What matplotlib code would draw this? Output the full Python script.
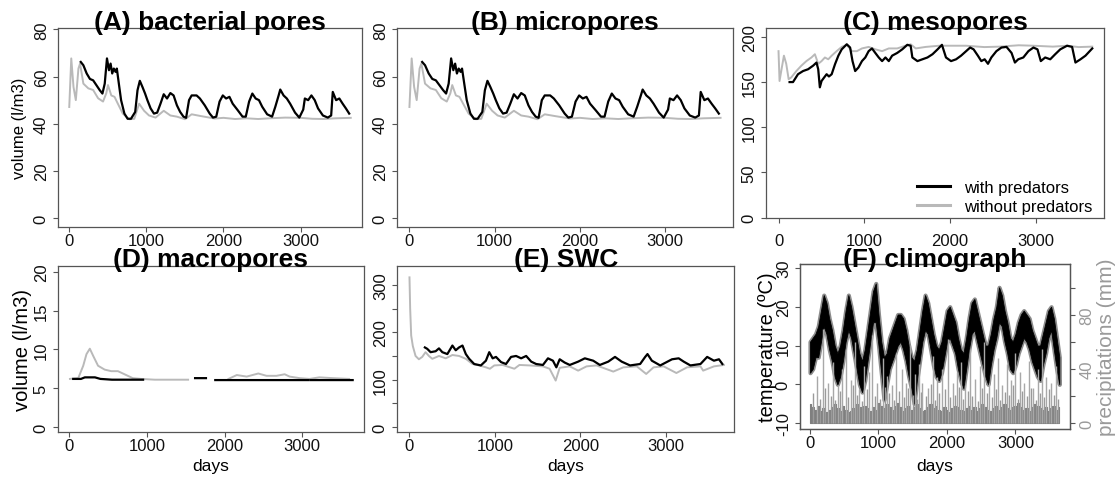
import matplotlib
matplotlib.use("Agg")
import matplotlib.pyplot as plt
from matplotlib.lines import Line2D

nan = float("nan")

plt.rcParams['font.family'] = ['Liberation Sans', 'DejaVu Sans']
plt.rcParams['axes.unicode_minus'] = False

# ---- (A) bacterial pores, (B) micropores : volume (l/m3) ----
ab_days_with = [149, 183, 226, 268, 310, 353, 396, 430, 460, 489,
                515, 536, 557, 578, 600, 617, 643, 672, 715, 757,
                800, 855, 885, 915, 949, 983, 1013, 1055, 1098, 1140,
                1183, 1225, 1268, 1311, 1353, 1396, 1438, 1481, 1515, 1553,
                1587, 1651, 1694, 1757, 1821, 1864, 1906, 1949, 1991, 2034,
                2077, 2119, 2183, 2247, 2289, 2332, 2374, 2417, 2460, 2502,
                2566, 2630, 2672, 2715, 2736, 2779, 2821, 2864, 2928, 2983,
                3034, 3055, 3098, 3140, 3183, 3226, 3289, 3353, 3396, 3417,
                3460, 3502, 3545, 3587, 3630]
ab_with = [66.2, 64.8, 61.3, 59.0, 58.4, 56.3, 54.2, 52.8, 57.0, 67.7,
           62.7, 65.5, 61.3, 63.4, 62.0, 63.4, 57.0, 50.0, 44.3, 42.1,
           42.1, 45.0, 54.2, 58.2, 55.6, 52.8, 50.0, 46.5, 44.3, 44.7,
           48.5, 52.5, 50.7, 53.0, 52.0, 47.8, 45.0, 43.0, 42.5, 50.0,
           52.0, 52.0, 50.7, 47.8, 44.3, 42.6, 43.0, 49.4, 52.0, 50.7,
           51.4, 48.5, 45.8, 43.0, 43.0, 49.4, 52.8, 50.7, 50.0, 47.2,
           44.0, 43.0, 47.2, 52.0, 54.5, 52.0, 50.7, 48.5, 44.7, 42.6,
           46.0, 50.7, 50.0, 52.0, 50.0, 46.5, 43.5, 42.6, 43.5, 53.5,
           50.0, 50.7, 48.5, 46.5, 44.3]
ab_days_without = [0, 26, 55, 85, 119, 140, 183, 247, 310, 374,
                   438, 480, 502, 545, 587, 630, 694, 778, 843, 906,
                   970, 1034, 1119, 1225, 1311, 1396, 1502, 1587, 1715, 1885,
                   2000, 2150, 2300, 2450, 2600, 2800, 3000, 3150, 3300, 3450,
                   3650]
ab_without = [47.1, 67.7, 55.6, 50.0, 63.4, 65.5, 57.0, 55.0, 54.3, 50.8,
              49.4, 52.9, 56.4, 52.0, 51.4, 48.5, 44.3, 41.9, 42.1, 48.5,
              45.5, 43.5, 42.6, 45.5, 43.5, 43.0, 41.9, 44.0, 43.2, 42.2,
              42.5, 42.0, 42.3, 42.0, 42.3, 42.6, 42.5, 42.1, 42.0, 42.3,
              42.5]

# ---- (C) mesopores ----
c_days_with = [129, 169, 227, 286, 345, 404, 443, 463, 482, 502,
               533, 561, 588, 620, 659, 698, 737, 796, 835, 863,
               894, 933, 973, 1012, 1051, 1090, 1129, 1169, 1208, 1247,
               1286, 1325, 1384, 1443, 1502, 1541, 1561, 1620, 1678, 1737,
               1796, 1855, 1906, 1953, 2012, 2071, 2129, 2188, 2235, 2275,
               2325, 2365, 2404, 2443, 2482, 2541, 2600, 2659, 2718, 2757,
               2796, 2855, 2914, 2973, 3020, 3059, 3110, 3169, 3227, 3286,
               3365, 3424, 3463, 3522, 3580, 3659]
c_with = [149.8, 149.8, 158.5, 162, 164, 168, 171.4, 164, 144, 151,
          155, 158.5, 156, 158.5, 169.6, 179, 186, 191.6, 188, 173,
          162, 166, 173, 177, 184, 187, 182, 177, 173, 177,
          173, 179, 182, 186, 191, 190, 177, 173, 175, 177,
          180.6, 186, 191, 177, 173, 175, 179, 184, 188, 186,
          179, 173, 175, 170, 177, 184, 188, 188.7, 182, 171.4,
          175, 177, 184, 188, 186, 173, 177, 175, 180.6, 186,
          190, 188.7, 171.4, 175, 179, 187]
c_days_without = [0, 12, 39, 63, 90, 118, 149, 208, 267, 325,
                  384, 424, 463, 502, 541, 580, 620, 678, 737, 796,
                  855, 914, 973, 1051, 1129, 1208, 1286, 1384, 1482, 1541,
                  1600, 1718, 1875, 2188, 2400, 2580, 2800, 2973, 3200, 3365,
                  3500, 3659]
c_without = [184, 151, 166, 179, 170, 153, 155, 162, 168, 173,
             177, 180.6, 170, 173, 177, 175, 179, 184, 188.7, 191,
             184, 184, 187, 188.7, 186, 184, 187, 187, 190, 191.6,
             187, 188.7, 190, 190, 188.5, 189, 190.5, 190, 189, 190,
             188.5, 189]

# ---- (D) macropores ----
d_days_with = [50, 150, 200, 330, 400, 550, 950, 980, 1620, 1760,
               1800, 1880, 3080, 3095, 3110, 3650]
d_with = [6.2, 6.2, 6.4, 6.4, 6.2, 6.1, 6.1, nan, 6.3, 6.3,
          nan, 6.05, 6.05, nan, 6.05, 6.05]
d_days_without = [8, 115, 179, 221, 264, 306, 370, 455, 540, 626,
                  711, 817, 923, 1100, 1300, 1530, 1560, 2050, 2157, 2285,
                  2434, 2540, 2668, 2774, 2838, 2966, 3094, 3221, 3391, 3604]
d_without = [6.2, 6.3, 7.9, 9.4, 10.1, 9.2, 7.9, 7.4, 7.2, 7.2,
             6.8, 6.3, 6.2, 6.1, 6.1, 6.1, nan, 6.2, 6.7, 6.5,
             6.9, 6.6, 6.6, 6.8, 6.5, 6.3, 6.2, 6.4, 6.3, 6.2]

# ---- (E) SWC ----
e_days_with = [180, 208, 247, 306, 345, 384, 443, 502, 541, 580,
               620, 659, 698, 757, 835, 894, 933, 973, 1012, 1071,
               1129, 1188, 1247, 1306, 1365, 1424, 1482, 1561, 1620, 1678,
               1718, 1757, 1816, 1875, 1973, 2051, 2149, 2227, 2325, 2404,
               2482, 2580, 2698, 2757, 2784, 2835, 2933, 3071, 3149, 3208,
               3286, 3404, 3482, 3561, 3620, 3660]
e_with = [168, 165, 158, 160, 166, 158, 154, 172, 162, 168,
          172, 154, 144, 133, 130, 140, 158, 145, 148, 137,
          133, 148, 150, 145, 150, 138, 133, 131, 145, 140,
          126, 143, 136, 131, 138, 145, 140, 131, 138, 148,
          138, 130, 133, 148, 154, 140, 130, 143, 145, 138,
          130, 133, 148, 140, 143, 133]
e_days_without = [0, 8, 20, 39, 71, 110, 149, 188, 227, 267,
                  345, 424, 502, 580, 659, 737, 816, 894, 941, 992,
                  1090, 1227, 1286, 1404, 1561, 1639, 1710, 1757, 1875, 1973,
                  2071, 2188, 2384, 2502, 2659, 2769, 2855, 2973, 3122, 3247,
                  3404, 3435, 3561, 3678]
e_without = [316, 250, 193, 171, 150, 143, 148, 158, 150, 144,
             150, 145, 152, 150, 144, 133, 130, 126, 123, 130,
             131, 123, 131, 130, 128, 123, 98, 125, 128, 119,
             128, 130, 117, 126, 128, 112, 126, 128, 114, 126,
             128, 119, 128, 131]

# ---- (F) climograph ----
temp_days = list(range(0, 3680, 40))  # read every 40 days
temp_high = [11, 12, 13, 15, 19, 23, 21, 17, 14, 10,
             8, 10, 14, 19, 23, 20, 16, 12, 8, 6,
             9, 14, 19, 24, 26, 18, 11, 7, 8, 12,
             14, 16, 18, 18, 17, 14, 10, 7, 6, 9,
             14, 19, 23, 21, 17, 13, 10, 9, 11, 15,
             19, 20, 18, 16, 12, 9, 8, 12, 17, 21,
             22, 19, 16, 13, 10, 10, 13, 17, 20, 25,
             23, 19, 16, 12, 11, 13, 16, 18, 19, 18,
             17, 14, 12, 10, 10, 13, 16, 19, 20, 17,
             12, 7]
temp_low = [3, 4, 7, 7, 11, 15, 13, 9, 6, 2,
            0, 2, 6, 11, 14, 12, 8, 4, 0, -2,
            1, 6, 11, 16, 16, 10, 3, -4, 0, 4,
            6, 8, 10, 11, 9, 6, 2, -1, -5, 1,
            6, 11, 14, 13, 9, 5, 2, 1, 3, 7,
            11, 12, 10, 8, 4, 1, -1, 4, 9, 13,
            14, 11, 8, 5, 2, 0, 5, 9, 12, 16,
            15, 11, 8, 4, 3, 5, 8, 10, 12, 11,
            9, 6, 4, 2, 1, 5, 8, 12, 14, 9,
            4, 0]
rain_base = [14, 12, 10, 13, 9, 11, 8, 10, 12, 14,
             11, 9, 13, 10, 8, 9, 11, 14, 12, 10,
             13, 11, 9, 12, 10, 15, 13, 11, 14, 12,
             10, 13, 15, 12, 9, 11, 13, 10, 12, 14,
             11, 9, 10, 12, 14, 11, 13, 10, 9, 12,
             10, 8, 11, 13, 12, 10, 9, 11, 13, 10,
             12, 9, 11, 14, 12, 10, 9, 11, 13, 10,
             12, 14, 11, 10, 12, 13, 15, 12, 10, 11,
             9, 12, 14, 13, 11, 10, 12, 9, 11, 13,
             10, 12]
rain_spike_days = [95, 184, 260, 330, 410, 470, 520, 600, 655, 720,
                   790, 860, 905, 985, 1060, 1130, 1190, 1260, 1340, 1400,
                   1455, 1530, 1590, 1640, 1720, 1790, 1850, 1930, 2010, 2090,
                   2140, 2200, 2270, 2330, 2410, 2480, 2540, 2610, 2680, 2740,
                   2810, 2870, 2930, 3000, 3070, 3130, 3200, 3260, 3330, 3390,
                   3450, 3520, 3590]
rain_spikes = [35, 70, 30, 45, 28, 40, 55, 32, 60, 25,
               42, 38, 65, 30, 48, 35, 28, 52, 40, 30,
               58, 36, 44, 30, 26, 50, 34, 40, 62, 30,
               38, 45, 28, 55, 33, 42, 60, 30, 36, 48,
               28, 44, 32, 52, 38, 30, 46, 26, 40, 55,
               34, 30, 42]
rain_mid_days = [40, 140, 220, 300, 370, 440, 560, 630, 690, 760,
                 830, 950, 1020, 1100, 1160, 1230, 1300, 1370, 1430, 1500,
                 1560, 1620, 1690, 1760, 1820, 1890, 1970, 2050, 2120, 2170,
                 2240, 2300, 2370, 2450, 2510, 2580, 2650, 2710, 2780, 2840,
                 2900, 2970, 3040, 3100, 3170, 3230, 3300, 3360, 3420, 3490,
                 3560, 3620]
rain_mid = [22, 18, 26, 20, 17, 24, 19, 28, 21, 16,
            25, 20, 18, 27, 22, 17, 24, 19, 26, 21,
            18, 23, 20, 29, 17, 22, 25, 19, 21, 27,
            18, 24, 20, 16, 26, 22, 19, 25, 17, 23,
            21, 28, 18, 24, 20, 26, 17, 22, 19, 25,
            21, 18]

day_ticks = [0, 1000, 2000, 3000]

W, H = 1118, 481
BLACK = "#000000"
GREY = "#b9b9b9"
FRAME = "#555555"


def box(left, right, top, bottom):
    return [left / W, 1 - bottom / H, (right - left) / W, (bottom - top) / H]


def setup(ax, ylim, yticks, ylabels=None, xpad=1.0):
    ax.set_xlim(-146, 3796)
    ax.set_ylim(*ylim)
    ax.set_xticks(day_ticks)
    ax.set_yticks(yticks)
    if ylabels is not None:
        ax.set_yticklabels(ylabels)
    for s in ax.spines.values():
        s.set_color(FRAME)
        s.set_linewidth(0.9)
    ax.tick_params(direction="out", length=3.6, width=0.8, color=FRAME,
                   labelsize=12, labelcolor="#111111")
    ax.tick_params(axis="x", pad=xpad)
    ax.tick_params(axis="y", pad=3)
    plt.setp(ax.get_yticklabels(), rotation=90, va="center")


def title(fig, text, cx, baseline):
    fig.text(cx / W, 1 - baseline / H, text, ha="center", va="baseline",
             fontsize=19, fontweight="bold")


fig = plt.figure(figsize=(W / 100, H / 100), dpi=100)

# (A)
ax = fig.add_axes(box(58, 362, 29, 228))
ax.plot(ab_days_without, ab_without, color=GREY, lw=1.4)
ax.plot(ab_days_with, ab_with, color=BLACK, lw=1.6)
setup(ax, (-3.8, 80.6), [0, 20, 40, 60, 80])
title(fig, "(A) bacterial pores", 210, 30)
fig.text(20 / W, 1 - 128 / H, "volume (l/m3)", rotation=90, ha="center",
         va="center", fontsize=12)

# (B)
ax = fig.add_axes(box(397, 733, 29, 228))
ax.plot(ab_days_without, ab_without, color=GREY, lw=1.4)
ax.plot(ab_days_with, ab_with, color=BLACK, lw=1.6)
setup(ax, (-3.8, 80.6), [0, 20, 40, 60, 80])
title(fig, "(B) micropores", 565, 30)

# (C)
ax = fig.add_axes(box(766, 1104, 29, 219))
ax.plot(c_days_without, c_without, color=GREY, lw=1.4)
ax.plot(c_days_with, c_with, color=BLACK, lw=1.6)
setup(ax, (-0.5, 209.6), [0, 50, 100, 150, 200], xpad=7.5)
title(fig, "(C) mesopores", 935, 30)
handles = [Line2D([], [], color=BLACK, lw=2.2), Line2D([], [], color=GREY, lw=2.2)]
ax.legend(handles, ["with predators", "without predators"], loc="lower left",
          bbox_to_anchor=(0.447, 0.02), frameon=False, fontsize=12,
          handlelength=2.0, handletextpad=0.8, labelspacing=0.25,
          borderpad=0, borderaxespad=0)

# (D)
ax = fig.add_axes(box(58, 364, 267, 433))
ax.plot(d_days_without, d_without, color=GREY, lw=1.4)
ax.plot(d_days_with, d_with, color=BLACK, lw=1.6)
setup(ax, (-0.65, 20.77), [0, 5, 10, 15, 20])
title(fig, "(D) macropores", 211, 267)
fig.text(23 / W, 1 - 350 / H, "volume (l/m3)", rotation=90, ha="center",
         va="center", fontsize=14.5)
fig.text(211 / W, 1 - 466 / H, "days", ha="center", va="center", fontsize=12.5)

# (E)
ax = fig.add_axes(box(397, 734, 267, 433))
ax.plot(e_days_without, e_without, color=GREY, lw=1.4)
ax.plot(e_days_with, e_with, color=BLACK, lw=1.6)
setup(ax, (-10.6, 340), [0, 50, 100, 150, 200, 250, 300],
      ["0", "", "100", "", "200", "", "300"])
title(fig, "(E) SWC", 566, 267)
fig.text(566 / W, 1 - 466 / H, "days", ha="center", va="center", fontsize=12.5)

# (F)
ax = fig.add_axes(box(800, 1070, 265, 430))
ax.fill_between(temp_days, temp_low, temp_high, color="#8c8c8c", lw=3)
ax.fill_between(temp_days, temp_low, temp_high, color=BLACK, lw=0.6)
setup(ax, (-11.5, 31.0), [-10, 0, 10, 20, 30])
ax2 = ax.twinx()
ax2.vlines(rain_mid_days, 0, rain_mid, color="#9a9a9a", lw=1)
ax2.vlines(rain_spike_days, 0, rain_spikes, color="#a8a8a8", lw=1)
ax2.fill_between(temp_days, 0, rain_base, step="mid", facecolor="#7f7f7f",
                 edgecolor="#7f7f7f", lw=0.8)
ax2.set_ylim(-4.4, 117.8)
ax2.set_yticks([0, 20, 40, 60, 80, 100])
ax2.set_yticklabels(["0", "", "40", "", "80", ""])
for s in ax2.spines.values():
    s.set_color(FRAME)
    s.set_linewidth(0.9)
ax2.tick_params(direction="out", length=3.6, width=0.8, color=FRAME,
                labelsize=12, labelcolor="#9a9a9a", pad=3)
plt.setp(ax2.get_yticklabels(), rotation=90, va="center")
title(fig, "(F) climograph", 935, 267)
fig.text(768 / W, 1 - 347 / H, "temperature (\u00baC)", rotation=90,
         ha="center", va="center", fontsize=14.5)
fig.text(1106 / W, 1 - 347 / H, "precipitations (mm)", rotation=90,
         ha="center", va="center", fontsize=15, color="#9a9a9a")
fig.text(935 / W, 1 - 466 / H, "days", ha="center", va="center", fontsize=12.5)

fig.savefig("out.png", dpi=100)
